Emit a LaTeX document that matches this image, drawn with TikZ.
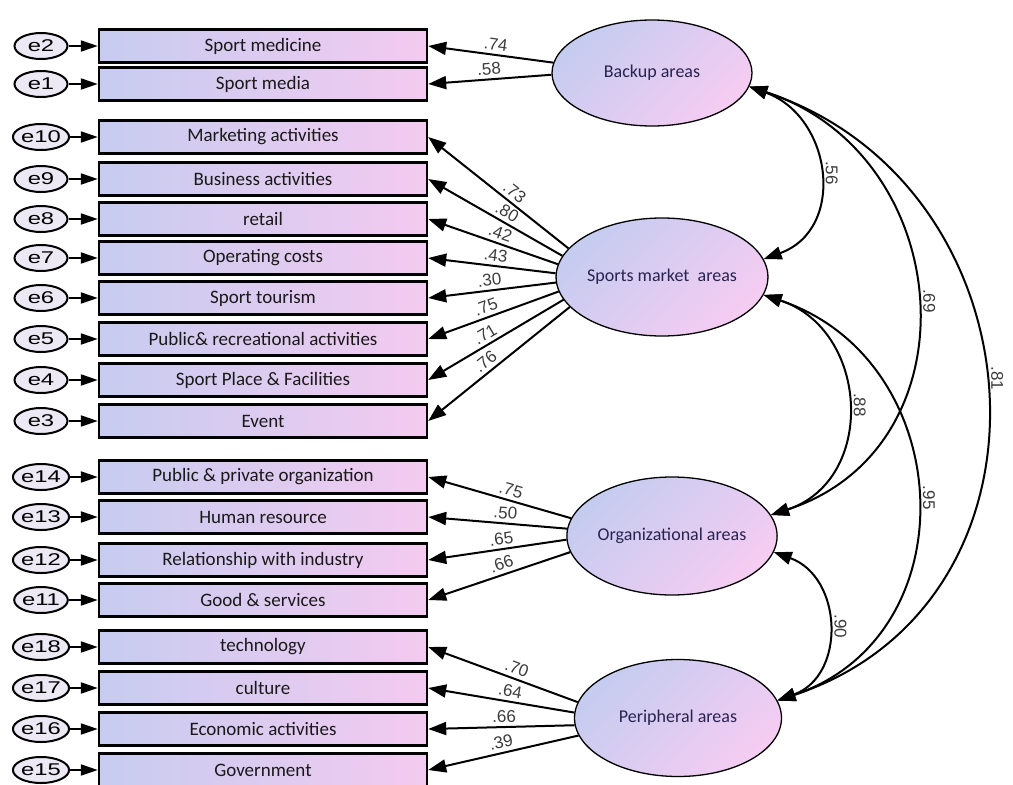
\documentclass[tikz,border=0pt]{standalone}
\usepackage{fontspec}
\usepackage{graphicx}
\usetikzlibrary{arrows.meta,shapes.geometric}
\newfontfamily\carl{Carlito}
\newfontfamily\arialf{Liberation Sans}
\definecolor{boxL}{RGB}{198,204,240}
\definecolor{boxR}{RGB}{244,202,240}
\definecolor{ellA}{RGB}{196,204,240}
\definecolor{ellB}{RGB}{246,204,242}
\definecolor{navy}{RGB}{40,34,80}
\definecolor{numc}{RGB}{60,60,60}
\definecolor{efill}{RGB}{236,232,244}
\newcommand\elab[1]{\scalebox{1.4}[1]{#1}}
\begin{document}
\begin{tikzpicture}[x=1pt,y=-1pt,
 obs/.style={draw=black, line width=2.4pt, rectangle, minimum width=328pt, minimum height=33pt, inner sep=0pt, left color=boxL, right color=boxR, font=\carl\fontsize{19}{22}\selectfont, text=black!90},
 err/.style={draw=black, line width=2pt, ellipse, minimum width=53pt, minimum height=26pt, inner sep=0pt, fill=efill, font=\arialf\fontsize{17}{20}\selectfont},
 lat/.style={draw=black, line width=1.3pt, ellipse, inner sep=0pt, shading=axis, top color=ellA, bottom color=ellB, shading angle=45, font=\carl\fontsize{18}{21}\selectfont, text=navy},
 earrow/.style={line width=2pt, -{Triangle[length=17pt,width=11pt]}},
 load/.style={line width=2pt, -{Triangle[length=18pt,width=13pt]}},
 cov/.style={line width=2pt, {Triangle[length=18pt,width=13pt]}-{Triangle[length=18pt,width=13pt]}},
 lw/.style={font=\arialf\fontsize{17}{20}\selectfont, text=numc, sloped, above, inner sep=3.5pt},
 cw/.style={font=\arialf\fontsize{17}{20}\selectfont, text=numc, anchor=south, rotate=-90, inner sep=6pt}]
\useasboundingbox (0,0) rectangle (1013,785);

% observed variables and error terms
\foreach \i/\y/\t in {2/46/Sport medicine, 1/84/Sport media, 10/137/Marketing activities, 9/179/Business activities, 8/219/retail, 7/258/Operating costs, 6/298/Sport tourism, 5/339/Public\& recreational activities, 4/380/Sport Place \& Facilities, 3/421/Event, 14/477/Public \& private organization, 13/517/Human resource, 12/560/Relationship with industry, 11/600/Good \& services, 18/647/technology, 17/688/culture, 16/729/Economic activities, 15/770/Government}{
  \node[obs] (b\i) at (263,\y) {\t};
  \node[err] (e\i) at (41,\y) {\elab{e\i}};
  \draw[earrow] (e\i) -- (b\i);
}

% latent variables
\node[lat, minimum width=200pt, minimum height=106pt] (ba) at (652,73) {Backup areas};
\node[lat, minimum width=211pt, minimum height=118pt] (sm) at (662,277) {Sports market\ \ areas};
\node[lat, minimum width=210pt, minimum height=118pt] (org) at (672,536) {Organizational areas};
\node[lat, minimum width=207pt, minimum height=117pt] (per) at (678,718) {Peripheral areas};

% loadings
\foreach \b/\a/\v/\p in {2/174/.74/0.47, 1/181/.58/0.5}
  \draw[load] (ba.\a) -- (b\b.east) node[lw, pos=\p] {\v};
\foreach \b/\a/\v/\p in {10/163/.73/0.43, 9/168/.80/0.45, 8/173/.42/0.47, 7/178/.43/0.48, 6/183/.30/0.51, 5/188/.75/0.53, 4/193/.71/0.54, 3/198/.76/0.55}
  \draw[load] (sm.\a) -- (b\b.east) node[lw, pos=\p] {\v};
\foreach \b/\a/\v/\p in {14/170/.75/0.44, 13/176/.50/0.45, 12/182/.65/0.46, 11/189/.66/0.46}
  \draw[load] (org.\a) -- (b\b.east) node[lw, pos=\p] {\v};
\foreach \b/\a/\v/\p in {18/171/.70/0.43, 17/177/.64/0.45, 16/184/.66/0.48, 15/190/.39/0.5}
  \draw[load] (per.\a) -- (b\b.east) node[lw, pos=\p] {\v};

% covariances
\draw[cov] (ba.-8) .. controls +(83,30) and +(83,-30) .. (sm.10) node[cw, pos=0.5] {.56};
\draw[cov] (ba.-8) .. controls +(208,68) and +(208,-68) .. (org.12) node[cw, pos=0.5] {.69};
\draw[cov] (ba.-8) .. controls +(296,98) and +(296,-98) .. (per.10) node[cw, pos=0.48] {.81};
\draw[cov] (sm.-10) .. controls +(106,35) and +(106,-35) .. (org.12) node[cw, pos=0.5] {.88};
\draw[cov] (sm.-10) .. controls +(194,65) and +(194,-65) .. (per.10) node[cw, pos=0.5] {.95};
\draw[cov] (org.-9) .. controls +(69,25) and +(69,-25) .. (per.10) node[cw, pos=0.5] {.90};
\end{tikzpicture}
\end{document}
